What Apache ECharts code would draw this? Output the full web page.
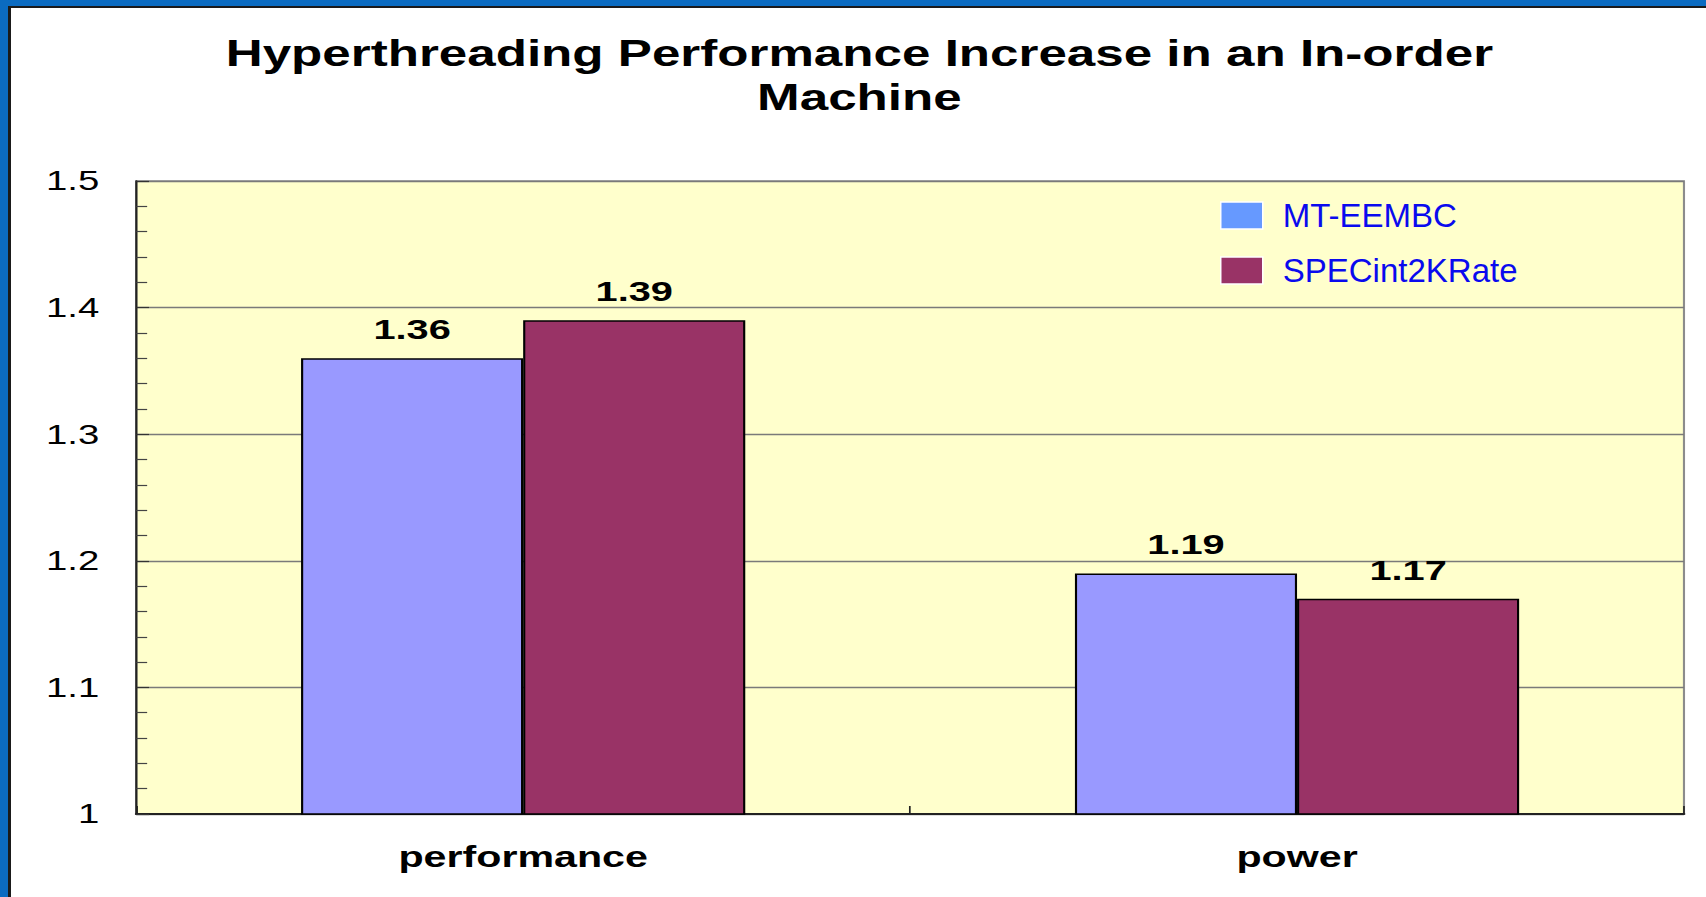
<!DOCTYPE html>
<html>
<head>
<meta charset="utf-8">
<script src="https://cdn.jsdelivr.net/npm/echarts@6/dist/echarts.min.js"></script>
<style>
html,body{margin:0;padding:0;background:#fff;width:1706px;height:897px;overflow:hidden;}
#main{position:absolute;left:0;top:0;width:1201px;height:897px;transform:scaleX(1.42048);transform-origin:0 0;}
#legend{position:absolute;left:0;top:0;width:1706px;height:897px;}
.fr{position:absolute;z-index:10;}
</style>
</head>
<body>
<div id="main"></div>
<div id="legend"></div>
<div class="fr" style="left:0;top:0;width:1706px;height:6px;background:#0B6BC1"></div>
<div class="fr" style="left:8px;top:6px;width:1698px;height:2px;background:#1a1a1a"></div>
<div class="fr" style="left:0;top:0;width:8px;height:897px;background:#0B6BC1"></div>
<div class="fr" style="left:8px;top:6px;width:3px;height:891px;background:#1a1a1a"></div>
<script>
// ---- data ----
const categories = ['performance', 'power'];
const seriesNames = ['MT-EEMBC', 'SPECint2KRate'];
const mtEembc = [1.36, 1.19];
const specInt2kRate = [1.39, 1.17];
const yMin = 1;
const yMax = 1.5;
const yStep = 0.1;
const titleText = 'Hyperthreading Performance Increase in an In-order\nMachine';

const FONT = "'Liberation Sans', Arial, Helvetica, sans-serif";

const chart = echarts.init(document.getElementById('main'), null, {renderer: 'svg'});
chart.setOption({
  animation: false,
  backgroundColor: 'transparent',
  title: {
    text: titleText,
    left: 605,
    top: 31,
    textAlign: 'center',
    padding: 0,
    textStyle: {fontFamily: FONT, fontWeight: 'bold', fontSize: 36, lineHeight: 44, color: '#000'}
  },
  grid: {
    left: 95.9, right: 15.5, top: 181, bottom: 83,
    show: true, backgroundColor: '#FFFFCC', borderColor: '#8c8c8c', borderWidth: 1.5
  },
  xAxis: {
    type: 'category',
    data: categories,
    axisLine: {show: true, lineStyle: {color: '#222', width: 2}},
    axisTick: {show: true, inside: true, length: 8, lineStyle: {color: '#222', width: 1.2}},
    axisLabel: {margin: 29, fontFamily: FONT, fontWeight: 'bold', fontSize: 29, color: '#000'},
    splitLine: {show: false}
  },
  yAxis: {
    type: 'value',
    min: yMin, max: yMax, interval: yStep,
    axisLine: {show: true, lineStyle: {color: '#222', width: 1.5}},
    axisTick: {show: true, inside: true, length: 9, lineStyle: {color: '#333', width: 1.2}},
    minorTick: {show: true, splitNumber: 5, length: 7.7, lineStyle: {color: '#444', width: 1.2}},
    splitLine: {show: true, lineStyle: {color: '#7a7a7a', width: 1.3}},
    axisLabel: {margin: 26, fontFamily: FONT, fontSize: 27, color: '#000', padding: [4, 0, 0, 0]}
  },
  series: [
    {
      type: 'bar', name: seriesNames[0], data: mtEembc,
      barGap: '0%', barCategoryGap: '42.6%',
      itemStyle: {color: '#9999FF', borderColor: '#000', borderWidth: 1.5},
      label: {show: true, position: 'top', distance: 15, fontFamily: FONT, fontWeight: 'bold', fontSize: 28, color: '#000'}
    },
    {
      type: 'bar', name: seriesNames[1], data: specInt2kRate,
      barGap: '0%', barCategoryGap: '42.6%',
      itemStyle: {color: '#993366', borderColor: '#000', borderWidth: 1.5},
      label: {show: true, position: 'top', distance: 15, fontFamily: FONT, fontWeight: 'bold', fontSize: 28, color: '#000'}
    }
  ]
});

// legend overlay (not horizontally stretched, as in the reference)
const lg = echarts.init(document.getElementById('legend'), null, {renderer: 'svg'});
lg.setOption({
  animation: false,
  backgroundColor: 'transparent',
  legend: {
    orient: 'vertical', left: 1220, top: 199, padding: 0,
    itemWidth: 42, itemHeight: 27, itemGap: 22, icon: 'rect',
    selectedMode: false,
    itemStyle: {borderColor: '#fff', borderWidth: 1.5},
    textStyle: {fontFamily: FONT, fontSize: 33, lineHeight: 27, color: '#0A0AEE', padding: [0, 0, 0, 15]}
  },
  grid: {left: 0, right: 0, top: 0, bottom: 0, show: false},
  xAxis: {show: false, type: 'category', data: categories},
  yAxis: {show: false, type: 'value'},
  series: [
    {type: 'bar', name: seriesNames[0], data: [], itemStyle: {color: '#6699FF'}},
    {type: 'bar', name: seriesNames[1], data: [], itemStyle: {color: '#993366'}}
  ]
});
</script>
</body>
</html>
